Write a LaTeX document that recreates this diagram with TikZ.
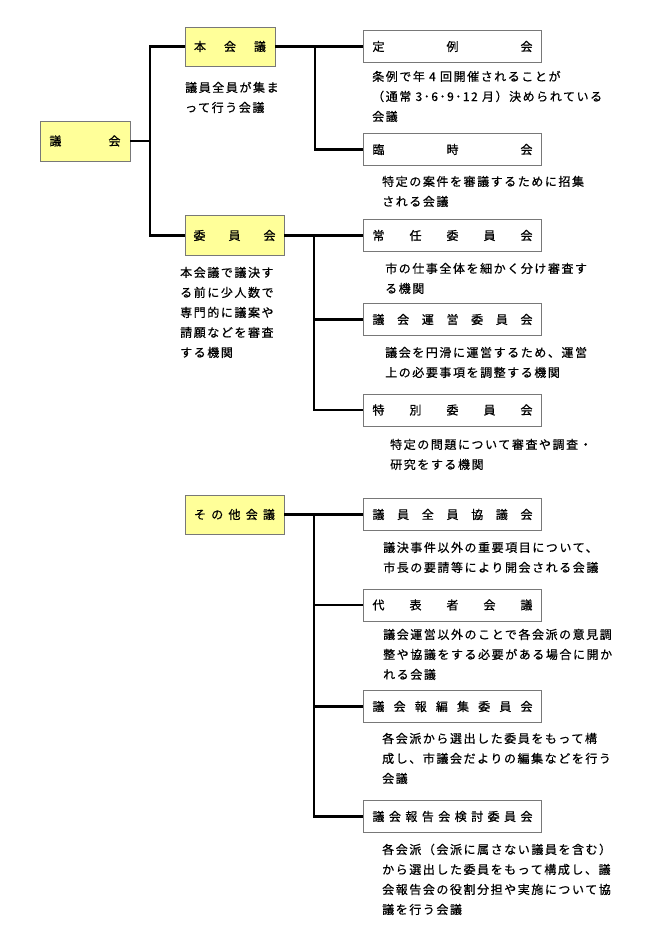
\documentclass[tikz,border=0pt]{standalone}
\usepackage{fontspec}
\usetikzlibrary{positioning}
\newfontfamily\jpfont{Noto Sans CJK JP}[LetterSpace=13, FakeBold=0.6]
\definecolor{boxyellow}{RGB}{255,255,153}
\definecolor{boxgray}{RGB}{120,120,120}
\newcommand{\spreadlabel}[2]{\hbox to #1{#2}}

\begin{document}
\begin{tikzpicture}[x=1pt, y=-1pt,
  mainbox/.style = {draw = boxgray, fill = boxyellow, inner sep = 0pt, font = \jpfont\fontsize{12pt}{14pt}\selectfont},
  subbox/.style = {draw = boxgray, fill = white, minimum width = 178pt, minimum height = 32pt, inner sep = 0pt, font = \jpfont\fontsize{12pt}{14pt}\selectfont},
  note/.style = {anchor = base west, align = left, inner sep = 0pt, font = \jpfont\fontsize{12pt}{20pt}\selectfont},
  link/.style = {line width = 2.4pt}]
\useasboundingbox (0,0) rectangle (650,929);

% left column
\node[mainbox, minimum width = 90pt, minimum height = 40pt] (gikai) at (85,141) {\spreadlabel{71pt}{議\hfill 会}};
\node[mainbox, minimum width = 90pt, minimum height = 39pt] (honkaigi) at (230,46.5) {\spreadlabel{72pt}{本\hfill 会\hfill 議}};
\node[mainbox, minimum width = 99pt, minimum height = 40pt] (iinkai) at (234.5,235.5) {\spreadlabel{82pt}{委\hfill 員\hfill 会}};
\node[mainbox, minimum width = 99pt, minimum height = 39pt] (sonota) at (234.5,514.5) {\spreadlabel{81pt}{そ\hfill の\hfill 他\hfill 会\hfill 議}};

% right column
\node[subbox] (teirei) at (452.5,46.5) {\spreadlabel{160pt}{定\hfill 例\hfill 会}};
\node[subbox] (rinji) at (452.5,149.5) {\spreadlabel{160pt}{臨\hfill 時\hfill 会}};
\node[subbox] (jonin) at (452.5,235.5) {\spreadlabel{160pt}{常\hfill 任\hfill 委\hfill 員\hfill 会}};
\node[subbox] (unei) at (452.5,319.5) {\spreadlabel{160pt}{議\hfill 会\hfill 運\hfill 営\hfill 委\hfill 員\hfill 会}};
\node[subbox] (tokubetsu) at (452.5,410) {\spreadlabel{160pt}{特\hfill 別\hfill 委\hfill 員\hfill 会}};
\node[subbox] (zenin) at (452.5,514.5) {\spreadlabel{160pt}{議\hfill 員\hfill 全\hfill 員\hfill 協\hfill 議\hfill 会}};
\node[subbox] (daihyo) at (452.5,605) {\spreadlabel{160pt}{代\hfill 表\hfill 者\hfill 会\hfill 議}};
\node[subbox] (kaiho) at (452.5,706.5) {\spreadlabel{160pt}{議\hfill 会\hfill 報\hfill 編\hfill 集\hfill 委\hfill 員\hfill 会}};
\node[subbox] (hokoku) at (452.5,816.5) {\spreadlabel{160pt}{議\hfill 会\hfill 報\hfill 告\hfill 会\hfill 検\hfill 討\hfill 委\hfill 員\hfill 会}};

% notes (placed at the baseline of their last line)
\node[note] (honkaigi-note) at (185,112) {議員全員が集ま\\って行う会議};
\node[note] (iinkai-note) at (180,357) {本会議で議決す\\る前に少人数で\\専門的に議案や\\請願などを審査\\する機関};
\node[note] (teirei-note) at (372,121) {条例で年 4 回開催されることが\\（通常 3･6･9･12 月）決められている\\会議};
\node[note] (rinji-note) at (382,206) {特定の案件を審議するために招集\\される会議};
\node[note] (jonin-note) at (385,293) {市の仕事全体を細かく分け審査す\\る機関};
\node[note] (unei-note) at (385,377) {議会を円滑に運営するため、運営\\上の必要事項を調整する機関};
\node[note] (tokubetsu-note) at (390,469) {特定の問題について審査や調査・\\研究をする機関};
\node[note] (zenin-note) at (383,572) {議決事件以外の重要項目について、\\市長の要請等により開会される会議};
\node[note] (daihyo-note) at (383,679) {議会運営以外のことで各会派の意見調\\整や協議をする必要がある場合に開か\\れる会議};
\node[note] (kaiho-note) at (382,783) {各会派から選出した委員をもって構\\成し、市議会だよりの編集などを行う\\会議};
\node[note] (hokoku-note) at (382,914) {各会派（会派に属さない議員を含む）\\から選出した委員をもって構成し、議\\会報告会の役割分担や実施について協\\議を行う会議};

% connectors
\coordinate (trunk) at (150,141);
\draw[link] (gikai.east) -- (trunk);
\draw[link] (trunk) |- (honkaigi.west);
\draw[link] (trunk) |- (iinkai.west);

\coordinate (honkaigi-fork) at (315,46.5);
\draw[link] (honkaigi) -- (teirei);
\draw[link] (honkaigi-fork) |- (rinji.west);

\coordinate (iinkai-fork) at (314,235.5);
\draw[link] (iinkai) -- (jonin);
\foreach \sub in {unei, tokubetsu}
  \draw[link] (iinkai-fork) |- (\sub.west);

\coordinate (sonota-fork) at (314,514.5);
\draw[link] (sonota) -- (zenin);
\foreach \sub in {daihyo, kaiho, hokoku}
  \draw[link] (sonota-fork) |- (\sub.west);
\end{tikzpicture}
\end{document}
